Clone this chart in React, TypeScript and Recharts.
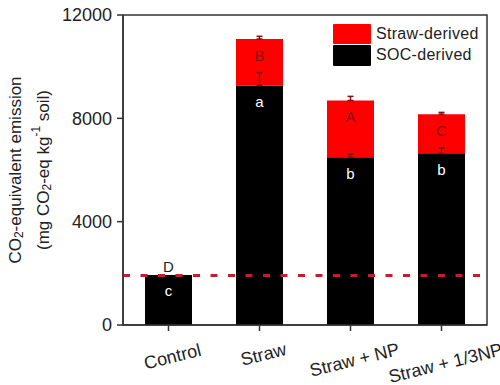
import React from 'react';
import { BarChart, Bar, XAxis, YAxis, ErrorBar, LabelList, ReferenceLine, ReferenceArea, Legend } from 'recharts';

const categories = ['Control', 'Straw', 'Straw + NP', 'Straw + 1/3NP'];
const socDerived = [1940, 9270, 6490, 6650];
const strawDerived = [0, 1800, 2200, 1510];
const socError: (number | null)[] = [null, 500, 120, 210];
const strawError: (number | null)[] = [null, 105, 160, 70];
const socLetters = ['c', 'a', 'b', 'b'];
const strawLetters = ['D', 'B', 'A', 'C'];
const controlLevel = 1920;
const yTicks = [0, 4000, 8000, 12000];
const yMax = 12000;

const FONT = '"Liberation Sans", Arial, sans-serif';
const AXIS = '#333';
const ERR = '#7d1414';

const data = categories.map((name, i) => ({
  name,
  soc: socDerived[i],
  straw: strawDerived[i],
  socErr: socError[i] == null ? null : [0, socError[i]],
  strawErr: strawError[i] == null ? null : [0, strawError[i]],
  socLetter: socLetters[i],
  strawLetter: strawLetters[i],
}));

const box = (p: any) => {
  const vb = p.viewBox || p;
  const h = Number(vb.height) || 0;
  const y = Math.min(Number(vb.y), Number(vb.y) + h);
  return { x: Number(vb.x), y, w: Number(vb.width), h: Math.abs(h) };
};

const renderSocLetter = (p: any) => {
  const b = box(p);
  const d = data[p.index];
  const showAbove = d && d.straw === 0;
  return (
    <g fontFamily={FONT} fontSize={15}>
      <text x={b.x + b.w / 2} y={b.y + 16} textAnchor="middle" dominantBaseline="central" fill="#fff">
        {p.value}
      </text>
      {showAbove ? (
        <text x={b.x + b.w / 2} y={b.y - 8} textAnchor="middle" dominantBaseline="central" fill="#222">
          {d.strawLetter}
        </text>
      ) : null}
    </g>
  );
};

const renderStrawLetter = (p: any) => {
  const b = box(p);
  if (b.h < 1) return null;
  return (
    <text x={b.x + b.w / 2} y={b.y + 16} textAnchor="middle" dominantBaseline="central"
      fill="#8a1010" fontSize={15} fontFamily={FONT}>
      {p.value}
    </text>
  );
};

const XTick = (props: any) => {
  const { x, payload } = props;
  const label = String(payload.value);
  const w = label.length * 9;
  const cx = x + 4;
  const cy = 349 + (w / 2) * Math.sin((14 * Math.PI) / 180);
  return (
    <text x={cx} y={cy} textAnchor="middle" dominantBaseline="central" fontSize={18} fontFamily={FONT} fill="#222"
      transform={`rotate(-14, ${cx}, ${cy})`}>
      {label}
    </text>
  );
};

const YLabel = (props: any) => {
  const vb = props.viewBox;
  const cy = vb.y + vb.height / 2;
  const x1 = 15;
  const x2 = 43;
  return (
    <g fontFamily={FONT} fontSize={17} fill="#222">
      <text x={x1} y={cy} textAnchor="middle" dominantBaseline="central" transform={`rotate(-90, ${x1}, ${cy})`}>
        <tspan>CO</tspan>
        <tspan dy={4} fontSize={12}>2</tspan>
        <tspan dy={-4}>-equivalent emission</tspan>
      </text>
      <text x={x2} y={cy} textAnchor="middle" dominantBaseline="central" transform={`rotate(-90, ${x2}, ${cy})`}>
        <tspan>(mg CO</tspan>
        <tspan dy={4} fontSize={12}>2</tspan>
        <tspan dy={-4}>-eq kg</tspan>
        <tspan dy={-7} fontSize={12}>-1</tspan>
        <tspan dy={7}> soil)</tspan>
      </text>
    </g>
  );
};

const renderLegend = (props: any) => {
  const items = [...(props.payload || [])].reverse();
  return (
    <div style={{ fontFamily: FONT, fontSize: 16, color: '#222' }}>
      {items.map((it: any, i: number) => (
        <div key={i} style={{ display: 'flex', alignItems: 'center', height: 21.5 }}>
          <div style={{ width: 38, height: 20.5, background: it.color, borderRadius: 1 }} />
          <span style={{ marginLeft: 5, letterSpacing: 0.3 }}>{it.value}</span>
        </div>
      ))}
    </div>
  );
};

export default function App() {
  return (
    <div style={{ position: 'absolute', left: 0, top: 0, width: 500, height: 385, background: '#fff', overflow: 'hidden' }}>
      <BarChart width={500} height={385} data={data} margin={{ top: 15, right: 13, bottom: 0, left: 0 }}>
        <XAxis dataKey="name" height={60} tickSize={6} tickLine={{ stroke: AXIS, strokeWidth: 1.5 }}
          axisLine={{ stroke: AXIS, strokeWidth: 1.5 }} tick={<XTick />} interval={0} />
        <YAxis domain={[0, yMax]} ticks={yTicks} width={123} tickSize={6} tickMargin={5}
          tick={{ fontSize: 18, fill: '#222', fontFamily: FONT }}
          tickLine={{ stroke: AXIS, strokeWidth: 1.5 }} axisLine={{ stroke: AXIS, strokeWidth: 1.5 }}
          label={{ content: <YLabel /> }} />
        <Legend verticalAlign="middle" align="center" layout="vertical" content={renderLegend}
          wrapperStyle={{ position: 'absolute', left: 333, top: 23, width: 150 }} />
        <Bar dataKey="soc" name="SOC-derived" stackId="a" fill="#000" barSize={47} isAnimationActive={false}>
          <ErrorBar dataKey="socErr" width={3} stroke={ERR} strokeWidth={1.5} direction="y" />
          <LabelList dataKey="socLetter" content={renderSocLetter} />
        </Bar>
        <Bar dataKey="straw" name="Straw-derived" stackId="a" fill="#ff0000" barSize={47} isAnimationActive={false}>
          <ErrorBar dataKey="strawErr" width={3} stroke={ERR} strokeWidth={1.5} direction="y" />
          <LabelList dataKey="strawLetter" content={renderStrawLetter} />
        </Bar>
        <ReferenceArea x1={categories[0]} x2={categories[categories.length - 1]} y1={0} y2={yMax}
          fill="none" fillOpacity={0} stroke={AXIS} strokeWidth={1.5} />
        <ReferenceLine y={controlLevel} stroke="#c0202a" strokeWidth={3} strokeDasharray="7 10.5" />
      </BarChart>
    </div>
  );
}
